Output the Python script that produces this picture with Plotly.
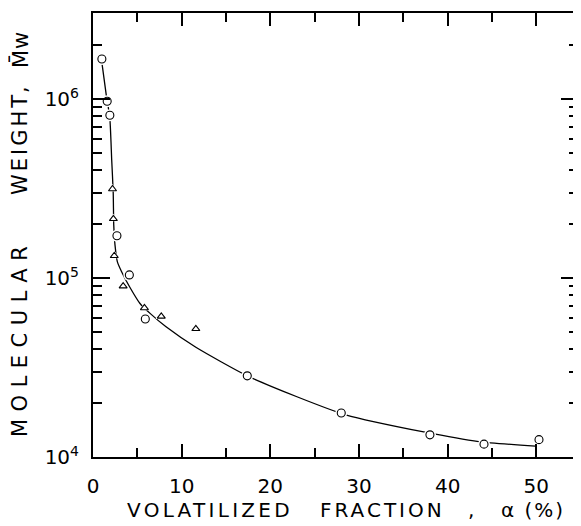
import plotly.graph_objects as go

# Data
circle_x = [1.0, 1.6, 1.9, 2.7, 4.1, 5.9, 17.4, 28.0, 38.0, 44.1, 50.3]
circle_y = [1.67e6, 9.7e5, 8.1e5, 1.72e5, 1.04e5, 5.9e4, 2.84e4, 1.76e4, 1.33e4, 1.18e4, 1.25e4]

tri_x = [2.2, 2.3, 2.4, 3.4, 5.8, 7.7, 11.6]
tri_y = [3.14e5, 2.14e5, 1.33e5, 9.0e4, 6.8e4, 6.1e4, 5.2e4]

curve_x = [0.99, 1.52, 1.89, 2.11, 2.28, 2.34, 2.48, 2.75, 3.24, 4.14, 5.3, 6.5,
           8.2, 11.6, 17.4, 23.0, 28.5, 37.3, 43.5, 49.9]
curve_y = [1.61e6, 1.03e6, 7.9e5, 4.56e5, 2.98e5, 1.98e5, 1.53e5, 1.23e5, 1.08e5, 8.9e4,
           7.2e4, 6.3e4, 5.35e4, 4.1e4, 2.84e4, 2.17e4, 1.72e4, 1.38e4, 1.22e4, 1.15e4]

x_ticks = [0, 10, 20, 30, 40, 50]
y_tickvals = [1e4, 1e5, 1e6]
y_ticktext = ["10<sup>4</sup>", "10<sup>5</sup>", "10<sup>6</sup>"]
y_minor = [m * 10 ** e for e in (4, 5, 6) for m in range(2, 10)]

FONT = "DejaVu Sans"

fig = go.Figure()
fig.add_trace(go.Scatter(x=curve_x, y=curve_y, mode="lines",
                         line=dict(color="black", width=1.3, shape="spline", smoothing=0.6),
                         hoverinfo="skip", showlegend=False))
# white halos to break the line around markers
fig.add_trace(go.Scatter(x=circle_x, y=circle_y, mode="markers",
                         marker=dict(symbol="circle", size=12, color="white", line=dict(width=0)),
                         hoverinfo="skip", showlegend=False))
fig.add_trace(go.Scatter(x=tri_x, y=tri_y, mode="markers",
                         marker=dict(symbol="triangle-up", size=10, color="white", line=dict(width=0)),
                         hoverinfo="skip", showlegend=False))
fig.add_trace(go.Scatter(x=circle_x, y=circle_y, mode="markers",
                         marker=dict(symbol="circle-open", size=8, color="black", line=dict(width=1.1)),
                         showlegend=False))
fig.add_trace(go.Scatter(x=tri_x, y=tri_y, mode="markers",
                         marker=dict(symbol="triangle-up-open", size=7, color="black", line=dict(width=1.1)),
                         showlegend=False))

fig.update_xaxes(range=[0, 54.7], tickvals=x_ticks, ticks="inside", ticklen=13, tickwidth=1.5,
                 tickcolor="black", showline=True, linecolor="black", linewidth=2,
                 mirror="allticks", showgrid=False, zeroline=False, automargin=False,
                 tickfont=dict(family=FONT, size=20, color="black"), ticklabelstandoff=10,
                 minor=dict(dtick=5, tick0=0, ticks="inside", ticklen=9, tickwidth=1.5, tickcolor="black",
                            showgrid=False))
fig.update_yaxes(type="log", range=[4, 6.48], tickvals=y_tickvals, ticktext=y_ticktext,
                 ticks="inside", ticklen=17, tickwidth=1.5, tickcolor="black",
                 showline=True, linecolor="black", linewidth=2, mirror="allticks",
                 showgrid=False, zeroline=False, automargin=False,
                 tickfont=dict(family=FONT, size=20, color="black"), ticklabelstandoff=8,
                 minor=dict(tickmode="array", tickvals=y_minor, ticks="inside", ticklen=9,
                            tickwidth=1.5, tickcolor="black", showgrid=False))

# page body has an 8px margin; target positions are in window pixels
OFF = 8
W, H = 581 - OFF, 526 - OFF
L = 93 - OFF
T = 13 - OFF
R = W - (578 - OFF)
B = H - (457 - OFF)
pw, ph = W - L - R, H - T - B


def px_to_paper_x(px):
    return (px - OFF - L) / pw


def px_to_paper_y(py):
    return (H - B - (py - OFF)) / ph


def sp(text, s):
    return f'<span style="letter-spacing:{s}px">{text}</span>'


annots = [
    dict(text=sp("VOLATILIZED", 3.3), x=px_to_paper_x(210), y=px_to_paper_y(510)),
    dict(text=sp("FRACTION", 3.0), x=px_to_paper_x(382), y=px_to_paper_y(510)),
    dict(text=",", x=px_to_paper_x(471), y=px_to_paper_y(510)),
    dict(text=sp("α (%)", 2.0), x=px_to_paper_x(533), y=px_to_paper_y(510)),
]
for a in annots:
    fig.add_annotation(xref="paper", yref="paper", showarrow=False, xanchor="center",
                       yanchor="middle", font=dict(family=FONT, size=20, color="black"), **a)

yannots = [
    dict(text=sp("MOLECULAR", 7.5), y=px_to_paper_y(338)),
    dict(text=sp("WEIGHT", 3.0), y=px_to_paper_y(144)),
    dict(text=",", y=px_to_paper_y(90)),
    dict(text=sp("M\u0304w", 1.0), y=px_to_paper_y(50)),
]
for a in yannots:
    fig.add_annotation(xref="paper", yref="paper", showarrow=False, xanchor="center",
                       yanchor="middle", textangle=-90, x=px_to_paper_x(20),
                       font=dict(family=FONT, size=21, color="black"), **a)

fig.update_layout(width=W, height=H, margin=dict(l=L, r=R, t=T, b=B, autoexpand=False),
                  paper_bgcolor="white", plot_bgcolor="white", showlegend=False)

fig.write_html("out.html")
